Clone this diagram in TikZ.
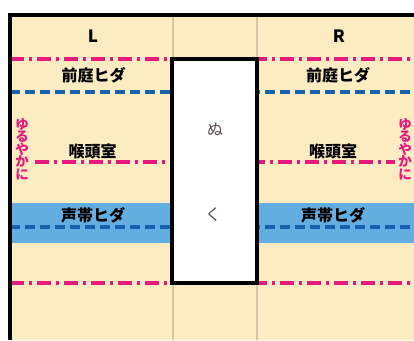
\documentclass[tikz,border=0pt]{standalone}
\usepackage{fontspec}
\newfontfamily\jp{Noto Sans CJK JP}
\definecolor{bgc}{HTML}{FDEBC2}
\definecolor{bandc}{HTML}{62AEE0}
\definecolor{pinkc}{HTML}{E8197D}
\definecolor{bluec}{HTML}{1762AC}
\definecolor{grayc}{HTML}{D8C6A6}
\definecolor{txtgray}{HTML}{5A4E4E}
\tikzset{
  pinkdd/.style={draw=pinkc, line width=3.4pt, dash pattern=on 14pt off 5pt on 2.5pt off 5.5pt},
  bluedash/.style={draw=bluec, line width=3.2pt, dash pattern=on 10pt off 5pt},
  grayline/.style={draw=grayc, line width=2pt},
  lbl/.style={font=\jp\bfseries\fontsize{16}{16}\selectfont, text=black, inner sep=0pt},
  side/.style={font=\jp\bfseries\fontsize{17}{17}\selectfont, text=black, inner sep=0pt},
  boxtxt/.style={font=\jp\fontsize{16}{16}\selectfont, text=txtgray, inner sep=0pt},
  vert/.style={font=\jp\bfseries\fontsize{13.5}{13.5}\selectfont, text=pinkc, inner sep=0pt, align=center},
  boxst/.style={draw=black, fill=white, line width=3.8pt}
}
\begin{document}
\begin{tikzpicture}[x=1pt,y=-1pt]
\useasboundingbox (0,0) rectangle (414,340);
\fill[bgc] (10,15) rectangle (414,340);
\fill[bandc] (10,203) rectangle (414,243);
\draw[grayline] (172.5,15) -- (172.5,340);
\draw[grayline] (257,15) -- (257,340);
\draw[pinkdd] (10,59) -- (414,59);
\draw[bluedash] (10,92) -- (414,92);
\draw[pinkdd] (35,162) -- (395,162);
\draw[bluedash] (10,227) -- (414,227);
\draw[pinkdd] (10,283) -- (414,283);
\draw[boxst] (172,59) rectangle (257,283);
\draw[black, line width=4pt] (10,340) -- (10,15) -- (414,15);
\node[side] (L) at (93,36) {L};
\node[side] (R) at (339,36) {R};
\node[lbl] (zl) at (93.5,75) {前庭ヒダ};
\node[lbl] (zr) at (338,75) {前庭ヒダ};
\node[lbl] (kl) at (92.5,151) {喉頭室};
\node[lbl] (kr) at (333,151) {喉頭室};
\node[lbl] (sl) at (93,215) {声帯ヒダ};
\node[lbl] (sr) at (333,215) {声帯ヒダ};
\node[boxtxt] (nu) at (215,129) {ぬ};
\node[boxtxt] (ku) at (213,215) {く};
\node[vert] (vl) at (22,149) {ゆ\\[-1pt]る\\[-1pt]や\\[-1pt]か\\[-1pt]に};
\node[vert] (vr) at (405,149) {ゆ\\[-1pt]る\\[-1pt]や\\[-1pt]か\\[-1pt]に};
\end{tikzpicture}
\end{document}
